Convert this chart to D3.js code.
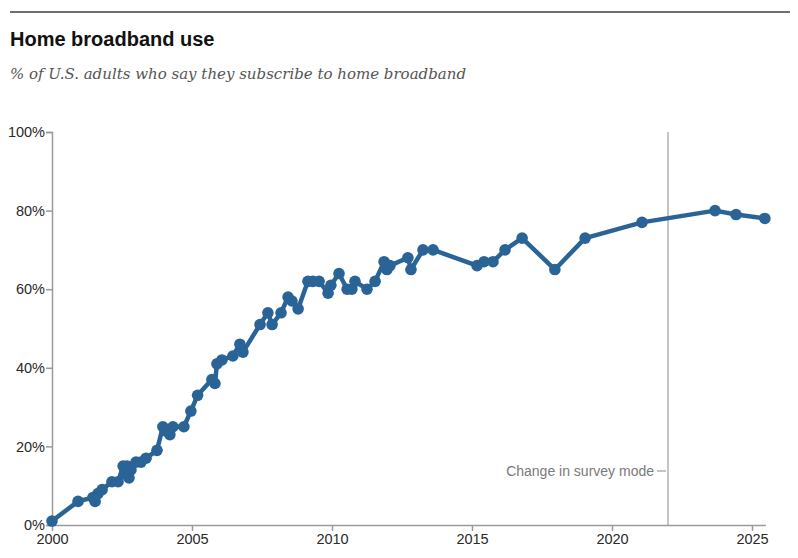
<!DOCTYPE html>
<html>
<head>
<meta charset="utf-8">
<script src="https://cdn.jsdelivr.net/npm/d3@7"></script>
<style>
  body { margin: 0; background: #fff; }
  svg text { font-family: "Liberation Sans", Arial, sans-serif; }
</style>
</head>
<body>
<div id="chart"></div>
<script>
// survey dates as decimal years, share of adults with home broadband (%)
var years = [2000.00, 2000.93, 2001.46, 2001.54, 2001.64, 2001.79, 2002.14, 2002.36,
  2002.54, 2002.61, 2002.68, 2002.75, 2002.82, 2003.00, 2003.18, 2003.36, 2003.75,
  2003.96, 2004.04, 2004.21, 2004.32, 2004.71, 2004.96, 2005.20, 2005.71, 2005.82,
  2005.89, 2006.07, 2006.46, 2006.71, 2006.82, 2007.43, 2007.71, 2007.86, 2008.18,
  2008.43, 2008.57, 2008.79, 2009.14, 2009.32, 2009.54, 2009.86, 2009.96, 2010.25,
  2010.54, 2010.71, 2010.82, 2011.25, 2011.54, 2011.86, 2011.96, 2012.07, 2012.71,
  2012.82, 2013.25, 2013.61, 2015.18, 2015.43, 2015.75, 2016.18, 2016.79, 2017.96,
  2019.04, 2021.07, 2023.68, 2024.43, 2025.46];
var values = [1, 6, 7, 6, 8, 9, 11, 11,
  15, 13, 15, 12, 14, 16, 16, 17, 19,
  25, 24, 23, 25, 25, 29, 33, 37, 36,
  41, 42, 43, 46, 44, 51, 54, 51, 54,
  58, 57, 55, 62, 62, 62, 59, 61, 64,
  60, 60, 62, 60, 62, 67, 65, 66, 68,
  65, 70, 70, 66, 67, 67, 70, 73, 65,
  73, 77, 80, 79, 78];
var xTicks = [2000, 2005, 2010, 2015, 2020, 2025];
var yTicks = [0, 20, 40, 60, 80, 100];
var modeChangeYear = 2022;

var width = 798, height = 558;
var x0 = 52, x1 = 752, y0 = 525, y1 = 132;

var svg = d3.select("#chart").append("svg")
    .attr("width", width)
    .attr("height", height);

// header
svg.append("line")
    .attr("x1", 10).attr("x2", 790)
    .attr("y1", 12).attr("y2", 12)
    .attr("stroke", "#707070").attr("stroke-width", 2);

svg.append("text")
    .attr("x", 10).attr("y", 46)
    .attr("font-size", 20).attr("font-weight", "bold")
    .attr("fill", "#111")
    .text("Home broadband use");

svg.append("text")
    .attr("x", 10).attr("y", 79)
    .style("font-family", "'DejaVu Serif', Georgia, serif")
    .attr("font-size", 15).attr("font-style", "italic")
    .attr("fill", "#555")
    .text("% of U.S. adults who say they subscribe to home broadband");

var x = d3.scaleLinear().domain([2000, 2025]).range([x0, x1]);
var y = d3.scaleLinear().domain([0, 100]).range([y0, y1]);

// axes
var yAxis = svg.append("g")
    .attr("transform", "translate(" + x0 + ",0)")
    .call(d3.axisLeft(y).tickValues(yTicks).tickSize(6).tickPadding(1)
        .tickFormat(function(d){ return d + "%"; }));

var xAxis = svg.append("g")
    .attr("transform", "translate(0," + y0 + ")")
    .call(d3.axisBottom(x).tickValues(xTicks).tickSize(6).tickPadding(3)
        .tickFormat(d3.format("d")));

xAxis.select(".domain").attr("d", "M" + x0 + ",0.5H" + (x(2025.5)));

[yAxis, xAxis].forEach(function(g){
    g.select(".domain").attr("stroke", "#9a9a9a").attr("stroke-width", 1.5);
    g.selectAll(".tick line").attr("stroke", "#9a9a9a").attr("stroke-width", 1.5);
    g.selectAll(".tick text").attr("font-size", 14.5).attr("fill", "#2a2a2a")
        .style("font-family", "'Liberation Sans', Arial, sans-serif");
});

// survey mode change marker
svg.append("line")
    .attr("x1", x(modeChangeYear)).attr("x2", x(modeChangeYear))
    .attr("y1", y(100)).attr("y2", y(0))
    .attr("stroke", "#b0b0b0").attr("stroke-width", 1.5);

svg.append("line")
    .attr("x1", x(modeChangeYear) - 11).attr("x2", x(modeChangeYear) - 2)
    .attr("y1", 471).attr("y2", 471)
    .attr("stroke", "#8a8a8a").attr("stroke-width", 1);

svg.append("text")
    .attr("x", x(modeChangeYear) - 14).attr("y", 476)
    .attr("text-anchor", "end")
    .attr("font-size", 14).attr("fill", "#7a7a7a")
    .text("Change in survey mode");

// series
var data = years.map(function(d, i){ return {year: d, value: values[i]}; });
var color = "#2a6497";

var line = d3.line()
    .x(function(d){ return x(d.year); })
    .y(function(d){ return y(d.value); });

svg.append("path")
    .datum(data)
    .attr("d", line)
    .attr("fill", "none")
    .attr("stroke", color)
    .attr("stroke-width", 4.5)
    .attr("stroke-linejoin", "round");

svg.selectAll("circle")
    .data(data)
    .enter()
    .append("circle")
    .attr("cx", function(d){ return x(d.year); })
    .attr("cy", function(d){ return y(d.value); })
    .attr("r", 5.8)
    .attr("fill", color);
</script>
</body>
</html>
